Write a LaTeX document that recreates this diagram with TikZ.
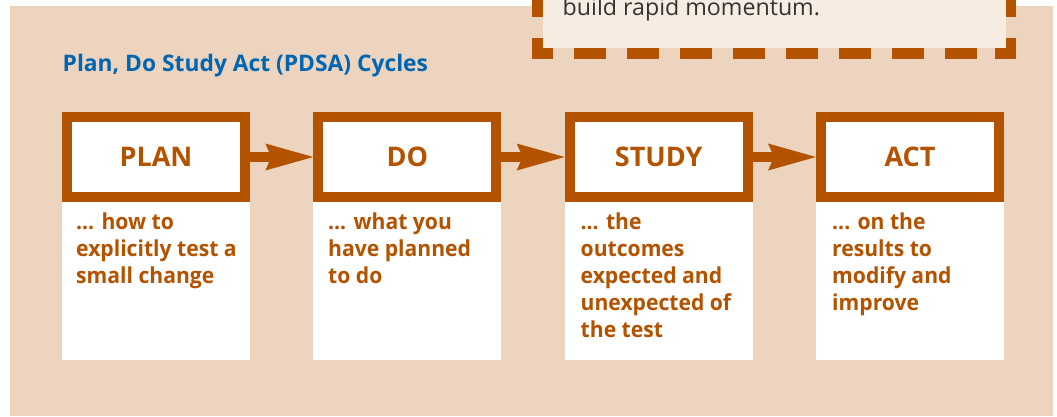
\documentclass[tikz,border=0pt]{standalone}
\usepackage{fontspec}
\setmainfont{Open Sans}
\newfontfamily\descfont{Open Sans}[FakeStretch=0.96]
\usetikzlibrary{arrows.meta}
\definecolor{bg}{RGB}{236,212,190}
\definecolor{cream}{RGB}{246,236,226}
\definecolor{rust}{RGB}{179,83,0}
\definecolor{tblue}{RGB}{0,102,179}
\definecolor{dgray}{RGB}{51,51,51}
\tikzset{
  head/.style={draw=rust, line width=10pt, fill=white, minimum width=178pt, minimum height=80pt,
    inner sep=0pt, text=rust, font=\bfseries\fontsize{27}{30}\selectfont},
  descbox/.style={fill=white, minimum width=188pt, minimum height=158pt, inner sep=0pt, anchor=north},
  desctext/.style={anchor=base west, inner sep=0pt, text=rust, font=\descfont\bfseries\fontsize{22}{27}\selectfont},
  link/.style={draw=rust, line width=9.5pt, -{Stealth[length=48pt,width=27pt,inset=6pt,line width=0pt]}},
  dashpiece/.style={fill=rust}
}
\newcommand{\desclines}[1]{\parbox[t]{175pt}{\raggedright #1}}
\begin{document}
\begin{tikzpicture}[x=1pt,y=-1pt]
\useasboundingbox (0,0) rectangle (1057,416);
\clip (0,0) rectangle (1057,416);
\fill[bg] (10,6) rectangle (1053,416);
% note box (cut off at top)
\fill[cream] (542.7,-5) rectangle (1005.7,48.3);
\node[anchor=base west, inner sep=0pt, text=dgray, font=\fontsize{23.2}{27}\selectfont] (note) at (562.5,15) {build rapid momentum.};
\fill[dashpiece] (532.3,-5) rectangle (542.7,17);
\fill[dashpiece] (532.3,38.3) rectangle (542.7,59);
\fill[dashpiece] (532.3,48.3) rectangle (553.3,59);
\fill[dashpiece] (1005.7,-5) rectangle (1016,16.7);
\fill[dashpiece] (1005.7,38.3) rectangle (1016,59);
\fill[dashpiece] (995,48.3) rectangle (1016,59);
\foreach \i in {0,...,7} \fill[dashpiece] (574.3+52.9*\i,48.3) rectangle ++(32,10.7);
% title
\node[anchor=base west, inner sep=0pt, text=tblue, font=\bfseries\fontsize{22.8}{26}\selectfont] (title) at (62.5,71.7) {Plan, Do Study Act (PDSA) Cycles};
% boxes
\node[descbox] (pland) at (156,202) {};
\node[descbox] (dod) at (407.3,202) {};
\node[descbox] (studyd) at (658.7,202) {};
\node[descbox] (actd) at (910,202) {};
\node[head] (plan) at (156,157) {PLAN};
\node[head] (do) at (407.3,157) {DO};
\node[head] (study) at (658.7,157) {STUDY};
\node[head] (act) at (910,157) {ACT};
\draw[link] (plan.east) -- (do.west);
\draw[link] (do.east) -- (study.west);
\draw[link] (study.east) -- (act.west);
\node[desctext] (plant) at (76,229.3) {\desclines{... how to\\explicitly test a\\small change}};
\node[desctext] (dot) at (328,229.3) {\desclines{... what you\\have planned\\to do}};
\node[desctext] (studyt) at (580.5,229.3) {\desclines{... the\\outcomes\\expected and\\unexpected of\\the test}};
\node[desctext] (actt) at (832,229.3) {\desclines{... on the\\results to\\modify and\\improve}};
\end{tikzpicture}
\end{document}
